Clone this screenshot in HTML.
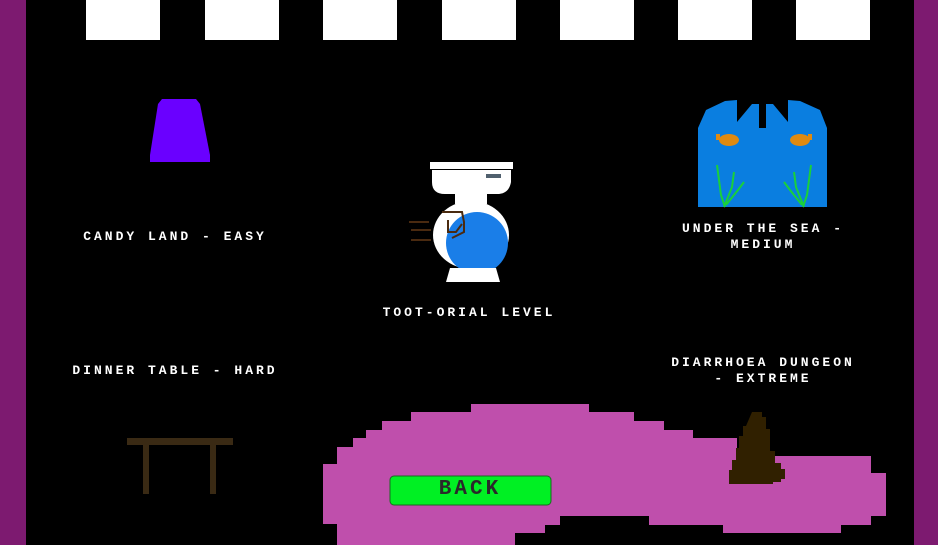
<!DOCTYPE html>
<html><head><style>
body{margin:0;width:938px;height:545px;background:#000;overflow:hidden;position:relative;font-family:"Liberation Mono",monospace;}
.a{position:absolute}
.t{position:absolute;color:#fff;font-size:13px;font-weight:bold;letter-spacing:3px;text-align:center;width:300px;line-height:16px;white-space:nowrap}
.w{position:absolute;top:0;height:40px;width:74px;background:#fff}
</style></head><body>
<div class="a" style="left:0;top:0;width:26px;height:545px;background:#7d1a70"></div>
<div class="a" style="left:914px;top:0;width:24px;height:545px;background:#7d1a70"></div>
<div class="w" style="left:86px"></div><div class="w" style="left:205px"></div><div class="w" style="left:323px"></div><div class="w" style="left:442px"></div><div class="w" style="left:560px"></div><div class="w" style="left:678px"></div><div class="w" style="left:796px"></div>
<svg class="a" style="left:0;top:0" width="938" height="545">
<polygon fill="#bf4fac" points="471,404 589,404 589,412 634,412 634,421 664,421 664,430 693,430 693,438 737,438 737,456 871,456 871,473 886,473 886,516 871,516 871,525 841,525 841,533 723,533 723,525 649,525 649,516 560,516 560,525 545,525 545,533 515,533 515,545 337,545 337,524 323,524 323,464 337,464 337,447 353,447 353,438 366,438 366,430 382,430 382,421 411,421 411,412 471,412"/>
<path fill="#302000" d="M752,412 h10 v5 h4 v12 h4 v22 h5 v12 h6 v6 h4 v10 h-4 v3 h-8 v2 h-44 v-14 h3 v-10 h4 v-12 h3 v-12 h4 v-10 h3 z"/>
<polygon fill="#6a00ff" points="162,99 196,99 200,104 210,155 210,162 150,162 150,155 158,104"/>
<rect x="127" y="438" width="106" height="7" fill="#3a2a14"/>
<rect x="143" y="445" width="6" height="49" fill="#3a2a14"/>
<rect x="210" y="445" width="6" height="49" fill="#3a2a14"/>
<polygon fill="#0a7ee0" points="698,128 706,110 725,101 737,100 737,122 752,104 759,104 759,128 766,128 766,104 773,104 788,122 788,100 800,101 820,110 827,128 827,207 698,207"/>
<ellipse cx="729" cy="140" rx="10" ry="6" fill="#e08a10"/><rect x="716" y="134" width="4" height="6" fill="#e08a10"/>
<ellipse cx="800" cy="140" rx="10" ry="6" fill="#e08a10"/><rect x="808" y="134" width="4" height="6" fill="#e08a10"/>
<g stroke="#1ad03a" stroke-width="2" fill="none"><path d="M717,165 l4,30 l4,12 M724,207 l8,-20 l2,-15 M726,205 l12,-15 l6,-8 M811,165 l-4,30 l-4,12 M804,207 l-8,-20 l-2,-15 M802,205 l-12,-15 l-6,-8"/></g>
<rect x="430" y="162" width="83" height="7" fill="#fff"/>
<path fill="#fff" d="M432,170 h79 v12 q-2,12 -14,12 h-52 q-13,0 -13,-12 z"/>
<rect x="486" y="174" width="15" height="4" fill="#50606e"/>
<rect x="455" y="192" width="32" height="12" fill="#fff"/>
<ellipse cx="471" cy="235" rx="38" ry="34" fill="#fff"/>
<circle cx="477" cy="243" r="31" fill="#1a7ee8"/>
<path fill="#fff" d="M450,268 h46 l4,14 h-54 z"/>
<g stroke="#4a2a10" stroke-width="2" fill="none"><path d="M409,222 h20 M411,230 h20 M411,240 h20 M442,212 h20 l2,10 v10 l-12,6 M448,220 v12 h8 l6,-8"/></g>
<rect x="390" y="476" width="161" height="29" rx="4" fill="#00f023" stroke="#1a6a20"/>
</svg>
<div class="t" style="left:25px;top:229px">CANDY LAND - EASY</div>
<div class="t" style="left:319px;top:305px">TOOT-ORIAL LEVEL</div>
<div class="t" style="left:613px;top:221px">UNDER THE SEA -<br>MEDIUM</div>
<div class="t" style="left:25px;top:363px">DINNER TABLE - HARD</div>
<div class="t" style="left:613px;top:355px">DIARRHOEA DUNGEON<br>- EXTREME</div>
<div class="t" style="left:320px;top:478px;font-size:21px;line-height:24px;color:#2a2a2a;font-weight:bold">BACK</div>
</body></html>
